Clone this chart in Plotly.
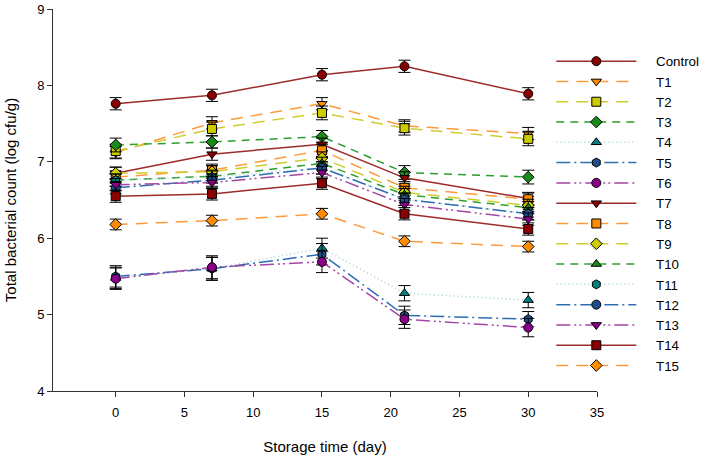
import plotly.graph_objects as go

days = [0, 7, 15, 21, 30]
names = ["Control", "T1", "T2", "T3", "T4", "T5", "T6", "T7", "T8", "T9",
         "T10", "T11", "T12", "T13", "T14", "T15"]

control = [7.76, 7.87, 8.14, 8.25, 7.89]
t1 = [7.12, 7.51, 7.76, 7.47, 7.37]
t2 = [7.14, 7.43, 7.64, 7.44, 7.30]
t3 = [7.22, 7.26, 7.33, 6.86, 6.80]
t4 = [5.48, 5.60, 5.87, 5.28, 5.19]
t5 = [5.50, 5.60, 5.79, 4.99, 4.94]
t6 = [5.47, 5.62, 5.69, 4.94, 4.83]
t7 = [6.85, 7.10, 7.23, 6.79, 6.52]
t8 = [6.80, 6.89, 7.15, 6.66, 6.51]
t9 = [6.85, 6.87, 7.05, 6.60, 6.43]
t10 = [6.76, 6.81, 6.98, 6.57, 6.40]
t11 = [6.76, 6.80, 6.92, 6.51, 6.32]
t12 = [6.66, 6.76, 6.92, 6.51, 6.32]
t13 = [6.70, 6.73, 6.86, 6.44, 6.25]
t14 = [6.55, 6.58, 6.72, 6.32, 6.12]
t15 = [6.18, 6.23, 6.32, 5.96, 5.89]

err_control = [0.08, 0.08, 0.08, 0.08, 0.08]
err_t1 = [0.08, 0.08, 0.08, 0.08, 0.08]
err_t2 = [0.09, 0.09, 0.09, 0.09, 0.09]
err_t3 = [0.09, 0.08, 0.08, 0.09, 0.09]
err_t4 = [0.14, 0.15, 0.13, 0.10, 0.10]
err_t5 = [0.14, 0.15, 0.14, 0.12, 0.10]
err_t6 = [0.14, 0.15, 0.14, 0.12, 0.12]
err_t7 = [0.08, 0.08, 0.08, 0.08, 0.08]
err_t8 = [0.08, 0.08, 0.08, 0.08, 0.08]
err_t9 = [0.08, 0.08, 0.08, 0.08, 0.08]
err_t10 = [0.08, 0.08, 0.08, 0.08, 0.08]
err_t11 = [0.08, 0.08, 0.08, 0.08, 0.08]
err_t12 = [0.08, 0.08, 0.08, 0.08, 0.08]
err_t13 = [0.08, 0.08, 0.08, 0.08, 0.08]
err_t14 = [0.08, 0.08, 0.08, 0.08, 0.08]
err_t15 = [0.07, 0.07, 0.07, 0.07, 0.07]

values = [control, t1, t2, t3, t4, t5, t6, t7, t8, t9, t10, t11, t12, t13, t14, t15]
errors = [err_control, err_t1, err_t2, err_t3, err_t4, err_t5, err_t6, err_t7,
          err_t8, err_t9, err_t10, err_t11, err_t12, err_t13, err_t14, err_t15]

DASH_LONG = "12px,8px"
DASH_MED = "8px,6px"
DOT = "1px,3px"
DASHDOT = "14px,4px,2px,4px"
DASHDOTDOT = "14px,4px,2px,3px,2px,4px"

# (line color, dash, marker symbol, marker fill)
styles = [
    ("#9E2A2A", "solid", "circle", "#8B0000"),
    ("#FF9A3C", DASH_LONG, "triangle-down", "#FF8C00"),
    ("#CDCD2E", DASH_LONG, "square", "#CCCC00"),
    ("#2CA02C", DASH_MED, "diamond", "#1A8A1A"),
    ("#A9CFCF", DOT, "triangle-up", "#008080"),
    ("#2E6DB4", DASHDOT, "hexagon", "#1F4E8C"),
    ("#A347A3", DASHDOTDOT, "circle", "#8B008B"),
    ("#9E2A2A", "solid", "triangle-down", "#8B0000"),
    ("#FF9A3C", DASH_LONG, "square", "#FF8C00"),
    ("#CDCD2E", DASH_LONG, "diamond", "#CCCC00"),
    ("#2CA02C", DASH_MED, "triangle-up", "#1A8A1A"),
    ("#A9CFCF", DOT, "hexagon", "#008080"),
    ("#2E6DB4", DASHDOT, "circle", "#1F4E8C"),
    ("#A347A3", DASHDOTDOT, "triangle-down", "#8B008B"),
    ("#9E2A2A", "solid", "square", "#8B0000"),
    ("#FF9A3C", DASH_LONG, "diamond", "#FF8C00"),
]

PAD = "\u00a0\u00a0\u00a0\u00a0"

fig = go.Figure()
for name, vals, errs, (lc, dash, sym, mc) in zip(names, values, errors, styles):
    fig.add_trace(go.Scatter(
        x=days, y=vals, name=PAD + name, mode="lines+markers",
        line=dict(color=lc, width=1.5, dash=dash),
        marker=dict(symbol=sym, size=9, color=mc, line=dict(color="black", width=1)),
        error_y=dict(type="data", array=errs, visible=True, color="black",
                     thickness=1, width=6),
    ))

fig.update_layout(
    width=709, height=459,
    paper_bgcolor="white", plot_bgcolor="white",
    margin=dict(l=53, r=112, t=9, b=68, autoexpand=False),
    font=dict(family="Liberation Sans, Arial, sans-serif", size=13, color="black"),
    showlegend=True,
    legend=dict(x=0.916, y=1.0 - (46 - 9) / 382, xanchor="left", yanchor="top",
                bgcolor="rgba(0,0,0,0)", font=dict(size=13.3),
                itemwidth=80, tracegroupgap=0),
    xaxis=dict(range=[-4.56, 35], tickvals=[0, 5, 10, 15, 20, 25, 30, 35],
               automargin=False, ticklabelstandoff=4,
               showgrid=False, zeroline=False, showline=True, linecolor="#333333",
               linewidth=1, ticks="outside", ticklen=5, tickcolor="#333333",
               title=dict(text="Storage time (day)", font=dict(size=15), standoff=22)),
    yaxis=dict(range=[4, 9], tickvals=[4, 5, 6, 7, 8, 9],
               automargin=False,
               showgrid=False, zeroline=False, showline=True, linecolor="#333333",
               linewidth=1, ticks="outside", ticklen=5, tickcolor="#333333",
               title=dict(text="Total bacterial count (log cfu/g)", font=dict(size=15),
                          standoff=16)),
)

fig.write_html("out.html",
               config={"displayModeBar": False},
               post_script="document.body.style.margin='0';document.body.style.padding='0';")
